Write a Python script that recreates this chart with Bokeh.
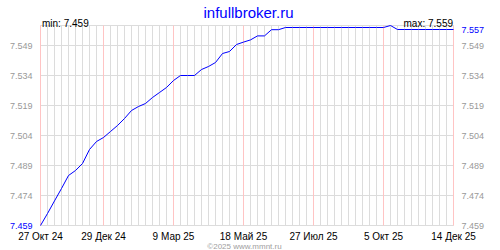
import pandas as pd
from bokeh.plotting import figure
from bokeh.models import Range1d, ColumnDataSource
from bokeh.core.properties import value
from bokeh.embed import file_html
from bokeh.resources import INLINE

# weekly observations
dates = pd.date_range("2024-10-27", "2025-12-14", freq="7D")
values = [
    7.459, 7.465, 7.4713, 7.4775, 7.484, 7.4865, 7.490, 7.497, 7.501, 7.503,
    7.506, 7.509, 7.5125, 7.5165, 7.5185, 7.520, 7.523, 7.5255, 7.528, 7.5315,
    7.534, 7.534, 7.534, 7.537, 7.5385, 7.5405, 7.545, 7.546, 7.5495, 7.5507,
    7.5518, 7.5538, 7.5538, 7.5569, 7.5569, 7.558, 7.558, 7.558, 7.558, 7.558,
    7.558, 7.558, 7.558, 7.558, 7.558, 7.558, 7.558, 7.558, 7.558, 7.558,
    7.559, 7.557, 7.557, 7.557, 7.557, 7.557, 7.557, 7.557, 7.557, 7.557,
]

tick_dates = ["2024-10-27", "2024-12-29", "2025-03-09", "2025-05-18",
              "2025-07-27", "2025-10-05", "2025-12-14"]
tick_labels = ["27 Окт 24", "29 Дек 24", "9 Мар 25", "18 Май 25",
               "27 Июл 25", "5 Окт 25", "14 Дек 25"]
y_ticks = [7.459, 7.474, 7.489, 7.504, 7.519, 7.534, 7.549]
y_min, y_max = 7.459, 7.559
last_value = 7.557

title_text = "infullbroker.ru"
min_text = "min: 7.459"
max_text = "max: 7.559"
footer_text = "©2025 www.mmnt.ru"

FONT = value("Liberation Sans")
BLUE = "#0000ff"
GRAY_TXT = "#999999"
GRID = "#dcdcdc"
PINK = "#ffc4c4"

start = pd.Timestamp(dates[0])
end = pd.Timestamp(dates[-1])
start_ms = start.value // 10**6
end_ms = end.value // 10**6

# frame geometry: plot area 40..453 px horizontally, 25..225 px vertically
W, H = 500, 250
L, R, T, B = 40, 47, 25, 25
px_x = (end_ms - start_ms) / (W - L - R)
px_y = (y_max - y_min) / (H - T - B)

p = figure(width=W, height=H,
           x_range=Range1d(start_ms - L * px_x, end_ms + R * px_x),
           y_range=Range1d(y_min - B * px_y, y_max + T * px_y),
           output_backend="svg", toolbar_location=None,
           x_axis_location=None, y_axis_location=None, title_location=None,
           min_border=0)
p.outline_line_color = None
p.xgrid.visible = False
p.ygrid.visible = False
p.background_fill_color = "white"
p.border_fill_color = "white"

# vertical weekly grid
p.segment(x0=list(dates), y0=[y_min] * len(dates), x1=list(dates), y1=[y_max] * len(dates),
          line_color=GRID, line_width=1)
# horizontal grid
h_lines = y_ticks + [y_max]
p.segment(x0=[start] * len(h_lines), y0=h_lines, x1=[end] * len(h_lines), y1=h_lines,
          line_color=GRID, line_width=1)
# labelled date lines
tick_ts = [pd.Timestamp(d) for d in tick_dates]
p.segment(x0=tick_ts, y0=[y_min] * len(tick_ts), x1=tick_ts, y1=[y_max] * len(tick_ts),
          line_color=PINK, line_width=1)

src = ColumnDataSource(data=dict(x=dates, y=values))
p.line("x", "y", source=src, line_color=BLUE, line_width=1)

# x tick labels
p.text(x=tick_ts, y=[y_min - 11 * px_y] * len(tick_ts), text=tick_labels,
       text_align="center", text_baseline="alphabetic", text_font=FONT,
       text_font_size="10px", text_color="black")

# left tick labels
left_ticks = y_ticks[1:]
p.text(x=[start_ms - 8 * px_x] * len(left_ticks), y=left_ticks,
       text=[f"{v:.3f}" for v in left_ticks], text_align="right", text_baseline="middle",
       text_font=FONT, text_font_size="9px", text_color=GRAY_TXT)
p.text(x=[start_ms - 8 * px_x], y=[y_min], text=[f"{y_min:.3f}"], text_align="right",
       text_baseline="middle", text_font=FONT, text_font_size="9px", text_color=BLUE)

# right tick labels
p.text(x=[end_ms + 8 * px_x] * len(y_ticks), y=y_ticks,
       text=[f"{v:.3f}" for v in y_ticks], text_align="left", text_baseline="middle",
       text_font=FONT, text_font_size="9px", text_color=GRAY_TXT)
p.text(x=[end_ms + 8 * px_x], y=[last_value], text=[f"{last_value:.3f}"], text_align="left",
       text_baseline="middle", text_font=FONT, text_font_size="9px", text_color=BLUE)

# title, min/max, footer
p.text(x=[start_ms + 208 * px_x], y=[y_max + 13 * px_y], text=[title_text],
       text_align="center", text_baseline="alphabetic", text_font=FONT,
       text_font_size="15px", text_color=BLUE)
p.text(x=[start_ms + 1.5 * px_x], y=[y_max + 2 * px_y], text=[min_text],
       text_align="left", text_baseline="alphabetic", text_font=FONT,
       text_font_size="10px", text_color="black")
p.text(x=[end_ms - 0.5 * px_x], y=[y_max + 2 * px_y], text=[max_text],
       text_align="right", text_baseline="alphabetic", text_font=FONT,
       text_font_size="10px", text_color="black")
p.text(x=[start_ms + 204 * px_x], y=[y_min - 20.5 * px_y], text=[footer_text],
       text_align="center", text_baseline="alphabetic", text_font=FONT,
       text_font_size="8px", text_color="#a0a0a0")

open("out.html", "w").write(file_html(p, INLINE))
